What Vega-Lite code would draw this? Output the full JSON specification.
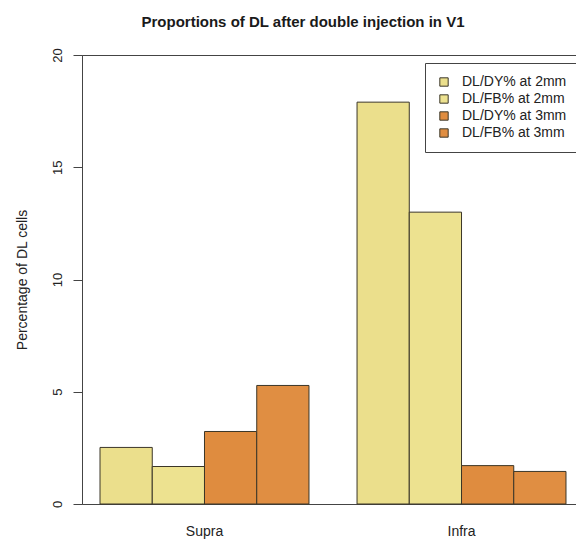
{
  "$schema": "https://vega.github.io/schema/vega-lite/v6.json",
  "width": 494,
  "height": 449,
  "autosize": {"type": "none"},
  "padding": {"left": 82, "top": 55, "right": 0, "bottom": 36},
  "background": "white",
  "title": {
    "text": "Proportions of DL after double injection in V1",
    "font": "Liberation Sans",
    "fontSize": 15,
    "fontWeight": "bold",
    "color": "#1a1a1a",
    "anchor": "middle",
    "frame": "group",
    "dx": -26,
    "baseline": "alphabetic",
    "offset": 6
  },
  "config": {
    "view": {"stroke": "#444", "strokeWidth": 1},
    "font": "Liberation Sans"
  },
  "data": {
    "values": [
      {"layer": "Supra", "series": "DL/DY% at 2mm", "value": 2.52},
      {"layer": "Supra", "series": "DL/FB% at 2mm", "value": 1.67},
      {"layer": "Supra", "series": "DL/DY% at 3mm", "value": 3.23},
      {"layer": "Supra", "series": "DL/FB% at 3mm", "value": 5.28},
      {"layer": "Infra", "series": "DL/DY% at 2mm", "value": 17.9},
      {"layer": "Infra", "series": "DL/FB% at 2mm", "value": 13.0},
      {"layer": "Infra", "series": "DL/DY% at 3mm", "value": 1.71},
      {"layer": "Infra", "series": "DL/FB% at 3mm", "value": 1.45}
    ]
  },
  "mark": {"type": "bar", "stroke": "#3b3628", "strokeWidth": 1},
  "encoding": {
    "x": {
      "field": "layer",
      "type": "nominal",
      "sort": ["Supra", "Infra"],
      "scale": {"paddingInner": 0.187, "paddingOuter": 0.0545, "align": 0.643},
      "axis": {
        "title": null,
        "labelAngle": 0,
        "ticks": false,
        "domain": false,
        "labelPadding": 20,
        "labelFontSize": 14,
        "labelColor": "#222",
        "labelFont": "Liberation Sans"
      }
    },
    "xOffset": {
      "field": "series",
      "type": "nominal",
      "sort": ["DL/DY% at 2mm", "DL/FB% at 2mm", "DL/DY% at 3mm", "DL/FB% at 3mm"],
      "scale": {"paddingInner": 0, "paddingOuter": 0}
    },
    "y": {
      "field": "value",
      "type": "quantitative",
      "scale": {"domain": [0, 20], "nice": false},
      "axis": {
        "title": "Percentage of DL cells",
        "titleFontSize": 14,
        "titleFontWeight": "normal",
        "titleColor": "#222",
        "titleFont": "Liberation Sans",
        "titlePadding": 22,
        "values": [0, 5, 10, 15, 20],
        "grid": false,
        "tickSize": 9,
        "tickColor": "#444",
        "domainColor": "#444",
        "labelAngle": -90,
        "labelAlign": "center",
        "labelBaseline": "bottom",
        "labelPadding": 9,
        "labelFontSize": 13,
        "labelColor": "#222",
        "labelFont": "Liberation Sans"
      }
    },
    "fill": {
      "field": "series",
      "type": "nominal",
      "sort": ["DL/DY% at 2mm", "DL/FB% at 2mm", "DL/DY% at 3mm", "DL/FB% at 3mm"],
      "scale": {"range": ["#ebdf8c", "#ede290", "#df8c3f", "#e08e42"]},
      "legend": {
        "title": null,
        "orient": "none",
        "legendX": 343,
        "legendY": 8,
        "padding": 12,
        "strokeColor": "#444",
        "fillColor": "white",
        "symbolType": "square",
        "symbolSize": 70,
        "symbolStrokeColor": "#3b3628",
        "symbolStrokeWidth": 1,
        "labelFontSize": 14,
        "labelFont": "Liberation Sans",
        "labelColor": "#222",
        "labelOffset": 11,
        "rowPadding": 3
      }
    }
  }
}
